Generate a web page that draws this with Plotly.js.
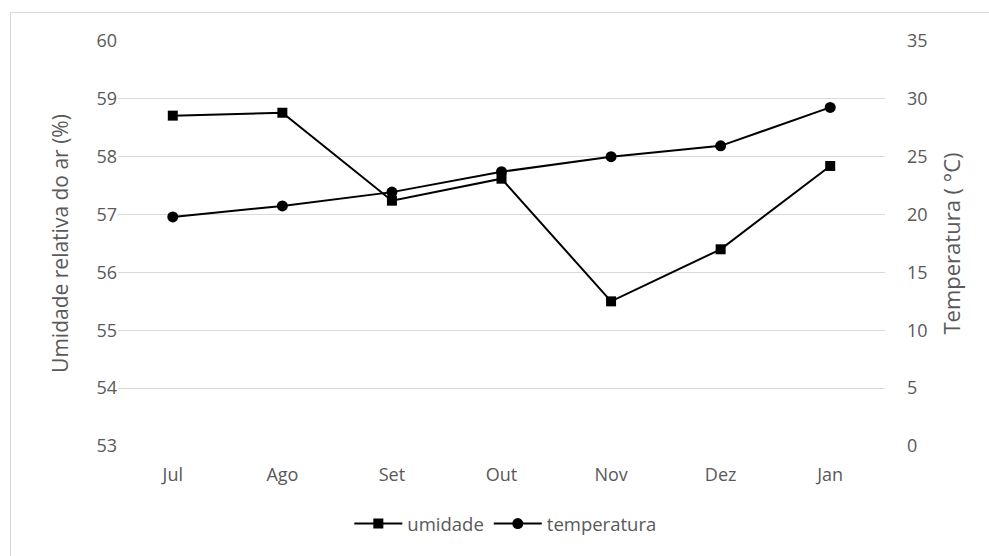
<!DOCTYPE html>
<html>
<head>
<meta charset="utf-8">
<script src="https://cdn.plot.ly/plotly-3.0.1.min.js"></script>
<style>
  html, body { margin: 0; padding: 0; background: #fff; }
  #frame { position: absolute; left: 10px; top: 12px; width: 1000px; height: 600px; border: 1px solid #d9d9d9; }
  #chart { position: absolute; left: 0; top: 0; width: 989px; height: 556px; }
</style>
</head>
<body>
<div id="frame"></div>
<div id="chart"></div>
<script>
const months = ["Jul", "Ago", "Set", "Out", "Nov", "Dez", "Jan"];
const umidade = [58.71, 58.76, 57.24, 57.62, 55.50, 56.40, 57.84];
const temperatura = [19.8, 20.75, 21.94, 23.7, 25.0, 25.94, 29.26];

const fontFam = "Open Sans, Noto Sans, sans-serif";
const grey = "#595959";

const traces = [
  {
    x: months, y: umidade, name: "umidade", type: "scatter", mode: "lines+markers",
    line: { color: "#000", width: 2 },
    marker: { symbol: "square", size: 10, color: "#000" },
    yaxis: "y"
  },
  {
    x: months, y: temperatura, name: "temperatura", type: "scatter", mode: "lines+markers",
    line: { color: "#000", width: 2 },
    marker: { symbol: "circle", size: 11, color: "#000" },
    yaxis: "y2"
  }
];

const layout = {
  width: 989, height: 556,
  margin: { l: 118, r: 104, t: 41, b: 110, autoexpand: false },
  paper_bgcolor: "rgba(0,0,0,0)",
  plot_bgcolor: "rgba(0,0,0,0)",
  font: { family: fontFam, color: grey, size: 18 },
  showlegend: true,
  legend: {
    orientation: "h", x: 0.505, xanchor: "center", xref: "paper",
    y: 32 / 556, yanchor: "middle", yref: "container",
    itemwidth: 48, tracegroupgap: 0,
    font: { size: 18.5, color: grey }
  },
  xaxis: {
    type: "category", range: [-0.5, 6.5], automargin: false,
    showgrid: false, zeroline: false, showline: false,
    ticks: "", ticklabelstandoff: 16,
    tickfont: { size: 18, color: grey }
  },
  yaxis: {
    range: [53, 60], dtick: 1, tick0: 53, automargin: false,
    showgrid: true, gridcolor: "#d9d9d9", gridwidth: 1,
    zeroline: false, showline: false, ticks: "",
    ticklabelstandoff: 18.5,
    tickfont: { size: 18, color: grey },
    title: { text: "Umidade relativa do ar (%)", font: { size: 21, color: grey }, standoff: 22 }
  },
  yaxis2: {
    range: [0, 35], dtick: 5, tick0: 0, automargin: false,
    overlaying: "y", side: "right",
    showgrid: false, zeroline: false, showline: false, ticks: "",
    ticklabelstandoff: 21,
    tickfont: { size: 18, color: grey },
    title: { text: "Temperatura ( °C)", font: { size: 22, color: grey }, standoff: 18 }
  }
};

Plotly.newPlot("chart", traces, layout, { displayModeBar: false, staticPlot: true });
</script>
</body>
</html>
